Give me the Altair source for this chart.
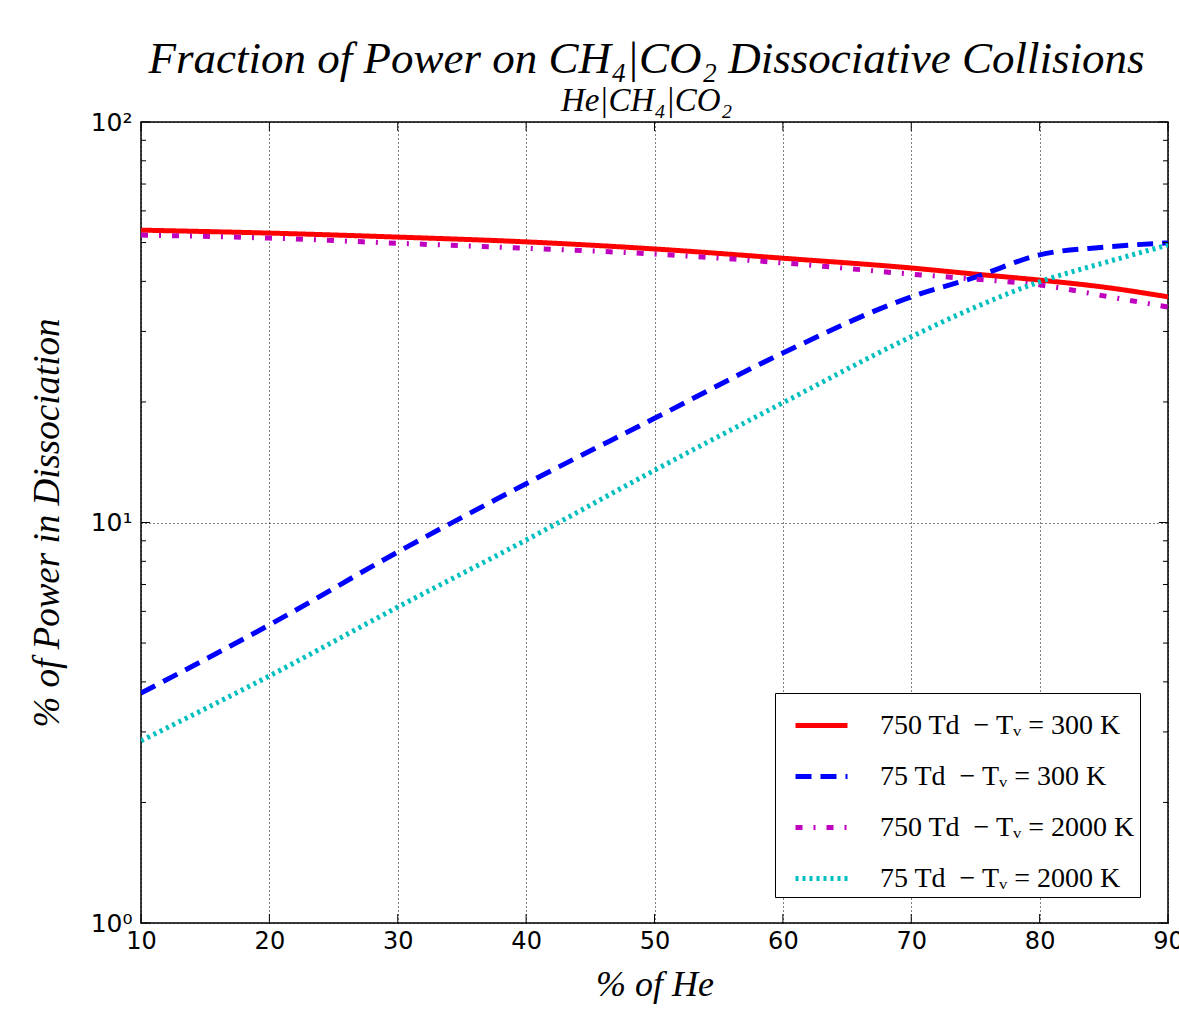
import altair as alt
import pandas as pd

he_pct = [10, 20, 30, 40, 50, 60, 70, 75, 80, 85, 90]
red_750_300 = [53.7, 52.8, 51.6, 50.2, 48.2, 45.7, 43.2, 41.7, 40.3, 38.7, 36.6]
blue_75_300 = [3.75, 5.55, 8.44, 12.5, 18.2, 26.5, 36.6, 41.0, 46.6, 48.7, 49.9]
mag_750_2000 = [52.2, 51.3, 49.8, 48.4, 46.8, 44.5, 41.7, 40.5, 39.2, 36.8, 34.5]
cyan_75_2000 = [2.85, 4.14, 6.15, 9.04, 13.5, 19.9, 29.1, 34.5, 39.9, 44.5, 49.3]

series_names = [
    "750 Td\u2002\u2212 T\u1d65 = 300 K",
    "75 Td\u2002\u2212 T\u1d65 = 300 K",
    "750 Td\u2002\u2212 T\u1d65 = 2000 K",
    "75 Td\u2002\u2212 T\u1d65 = 2000 K",
]
series_colors = ["#ff0000", "#0000ff", "#bf00bf", "#00bfbf"]
series_dashes = [[1, 0], [16, 9], [7, 11, 2, 11], [3, 4]]

x_major = [10, 20, 30, 40, 50, 60, 70, 80, 90]
y_major = [1, 10, 100]
y_minor = [2, 3, 4, 5, 6, 7, 8, 9, 20, 30, 40, 50, 60, 70, 80, 90]

W, H = 1027, 801
SERIF = "Liberation Serif"
SANS = "DejaVu Sans"
X_TITLE = "% of He"
Y_TITLE = "% of Power in Dissociation"

rows = []
for name, vals in zip(series_names, [red_750_300, blue_75_300, mag_750_2000, cyan_75_2000]):
    for x, v in zip(he_pct, vals):
        rows.append({"he": x, "pct": v, "series": name})
df = pd.DataFrame(rows)

xscale = alt.Scale(domain=[10, 90], nice=False, zero=False)
yscale = alt.Scale(type="log", domain=[1, 100], nice=False)

x_axis = alt.Axis(values=x_major, format="d", grid=True, ticks=False, domain=False,
                  labelFlush=False, labelOverlap=False,
                  labelFont=SANS, labelFontSize=24, labelPadding=6, labelColor="black",
                  titleFont=SERIF, titleFontStyle="italic", titleFontWeight="normal",
                  titleFontSize=36, titlePadding=14, titleColor="black",
                  gridColor="black", gridDash=[1, 3], gridWidth=1, gridOpacity=1)
y_axis = alt.Axis(values=y_major, grid=True, ticks=False, domain=False,
                  labelFlush=False, labelOverlap=False,
                  labelExpr="datum.value >= 100 ? '10\u00b2' : (datum.value >= 10 ? '10\u00b9' : '10\u2070')",
                  labelFont=SANS, labelFontSize=25, labelPadding=9, labelColor="black",
                  titleFont=SERIF, titleFontStyle="italic", titleFontWeight="normal",
                  titleFontSize=37, titlePadding=24, titleColor="black",
                  gridColor="black", gridDash=[1, 3], gridWidth=1, gridOpacity=1)

legend = alt.Legend(orient="none", legendX=634, legendY=571, title=None,
                    symbolType="stroke", symbolSize=2704, symbolStrokeWidth=5,
                    symbolOffset=14, labelOffset=30, padding=4, rowPadding=8,
                    strokeColor="black", fillColor="white",
                    labelFont=SERIF, labelFontSize=28, labelColor="black",
                    labelLimit=600)

lines = alt.Chart(df).mark_line(strokeWidth=5, interpolate="monotone", clip=True).encode(
    x=alt.X("he:Q", scale=xscale, title=X_TITLE, axis=x_axis),
    y=alt.Y("pct:Q", scale=yscale, title=Y_TITLE, axis=y_axis),
    color=alt.Color("series:N", scale=alt.Scale(domain=series_names, range=series_colors), legend=legend),
    strokeDash=alt.StrokeDash("series:N", scale=alt.Scale(domain=series_names, range=series_dashes), legend=legend),
    order=alt.Order("he:Q"),
)

def xticks(y0, y1):
    return alt.Chart(pd.DataFrame({"he": x_major})).mark_rule(color="black", strokeWidth=1).encode(
        x=alt.X("he:Q", scale=xscale, title=X_TITLE, axis=x_axis), y=alt.value(y0), y2=alt.value(y1))

def yticks(vals, x0, x1):
    return alt.Chart(pd.DataFrame({"pct": vals})).mark_rule(color="black", strokeWidth=1).encode(
        y=alt.Y("pct:Q", scale=yscale, title=Y_TITLE, axis=y_axis), x=alt.value(x0), x2=alt.value(x1))

chart = alt.layer(
    lines,
    xticks(H, H - 9), xticks(0, 9),
    yticks(y_major, 0, 9), yticks(y_major, W, W - 9),
    yticks(y_minor, 0, 5), yticks(y_minor, W, W - 5),
).properties(
    width=W, height=H,
    background="white",
    title=alt.TitleParams(text="Fraction of Power on CH\u2084|CO\u2082 Dissociative Collisions",
                          subtitle="He|CH\u2084|CO\u2082",
                          font=SERIF, fontSize=45, fontStyle="italic", fontWeight="normal", color="black",
                          subtitleFont=SERIF, subtitleFontSize=33, subtitleFontStyle="italic",
                          subtitleColor="black", anchor="middle", frame="group",
                          offset=-8, subtitlePadding=3, dx=-8),
    autosize=alt.AutoSizeParams(type="none"),
    padding={"left": 141, "top": 122, "right": 11, "bottom": 93},
).configure_view(stroke="black", strokeWidth=1.5)

chart.save("out.html", embed_options={"renderer": "svg", "actions": False})
